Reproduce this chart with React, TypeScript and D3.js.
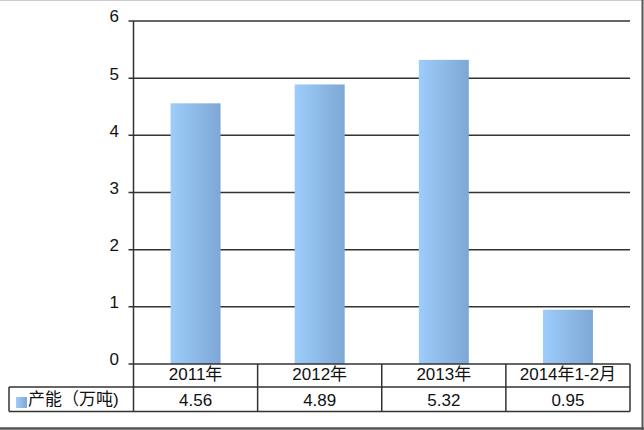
import React from "react";
import * as d3 from "d3";

const categories = ["2011年", "2012年", "2013年", "2014年1-2月"];
const values = [4.56, 4.89, 5.32, 0.95];
const yTicks = [0, 1, 2, 3, 4, 5, 6];
const seriesName = "产能（万吨)";

export default function App() {
  const W = 644, H = 430;
  const left = 133.5, right = 630, top = 21, bottom = 364;
  const x = d3.scaleBand<string>().domain(categories).range([left, right]).paddingInner(0).paddingOuter(0);
  const y = d3.scaleLinear().domain([0, 6]).range([bottom, top]);
  const barW = 50;
  const row1 = 387, row2 = 411.5, tableLeft = 9;
  const font = "'Liberation Sans', Arial, 'Noto Sans CJK SC', sans-serif";
  const lineColor = "#333";
  return (
    <div style={{ position: "absolute", left: 0, top: 0 }}>
      <svg width={W} height={H} style={{ display: "block" }} fontFamily={font}>
        <defs>
          <linearGradient id="barGrad" x1="0" x2="1" y1="0" y2="0">
            <stop offset="0" stopColor="#9dcdfb" />
            <stop offset="1" stopColor="#7ea7d4" />
          </linearGradient>
        </defs>
        <rect x={0} y={0} width={W} height={H} fill="#fff" />
        <line x1={0} x2={W} y1={0.5} y2={0.5} stroke="#ccc" strokeWidth={1} />
        <line x1={642.5} x2={642.5} y1={0} y2={H} stroke="#555" strokeWidth={2} />
        <line x1={0} x2={W} y1={428.5} y2={428.5} stroke="#555" strokeWidth={2.5} />
        {yTicks.map((t) => (
          <g key={t}>
            <line x1={left - 5} x2={t === 0 ? left : right} y1={y(t)} y2={y(t)} stroke={lineColor} strokeWidth={1.5} />
            <text x={119} y={y(t) - 3} textAnchor="end" dominantBaseline="middle" fontSize={17} fill="#111">
              {t}
            </text>
          </g>
        ))}
        {categories.map((c, i) => (
          <rect
            key={c}
            x={(x(c) as number) + x.bandwidth() / 2 - barW / 2}
            y={y(values[i])}
            width={barW}
            height={y(0) - y(values[i])}
            fill="url(#barGrad)"
          />
        ))}
        <line x1={left} x2={left} y1={top} y2={row2} stroke={lineColor} strokeWidth={1.5} />
        {/* table */}
        <line x1={left} x2={right} y1={bottom} y2={bottom} stroke={lineColor} strokeWidth={1.5} />
        <line x1={tableLeft} x2={right} y1={row1} y2={row1} stroke={lineColor} strokeWidth={1.5} />
        <line x1={tableLeft} x2={right} y1={row2} y2={row2} stroke={lineColor} strokeWidth={1.5} />
        <line x1={tableLeft} x2={tableLeft} y1={row1} y2={row2} stroke={lineColor} strokeWidth={1.5} />
        {categories.map((c) => (
          <line key={c} x1={(x(c) as number) + x.bandwidth()} x2={(x(c) as number) + x.bandwidth()} y1={bottom} y2={row2} stroke={lineColor} strokeWidth={1.5} />
        ))}
        {categories.map((c, i) => (
          <g key={c}>
            <text x={(x(c) as number) + x.bandwidth() / 2} y={(bottom + row1) / 2 + 0.5} textAnchor="middle" dominantBaseline="middle" fontSize={17} fill="#111">
              {c}
            </text>
            <text x={(x(c) as number) + x.bandwidth() / 2} y={(row1 + row2) / 2 + 2} textAnchor="middle" dominantBaseline="middle" fontSize={17} fill="#111">
              {values[i].toFixed(2)}
            </text>
          </g>
        ))}
        <rect x={16} y={397} width={11} height={11} fill="url(#barGrad)" />
        <text x={28} y={(row1 + row2) / 2 + 1} dominantBaseline="middle" fontSize={17} fill="#111">
          {seriesName}
        </text>
      </svg>
    </div>
  );
}
